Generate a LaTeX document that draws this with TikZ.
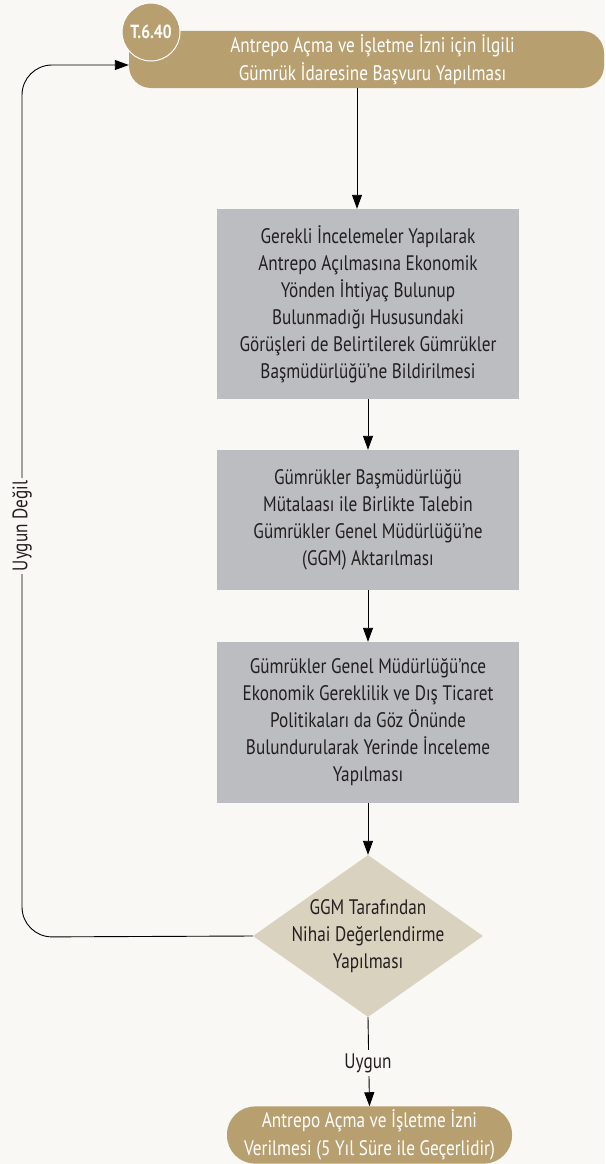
\documentclass[tikz,border=0pt]{standalone}
\usepackage{fontspec}
\setmainfont{PT Sans}[FakeStretch=0.82]
\usetikzlibrary{arrows.meta,shapes.geometric}
\definecolor{bgpage}{RGB}{249,248,245}
\definecolor{gold}{RGB}{184,159,112}
\definecolor{boxgray}{RGB}{188,189,192}
\definecolor{sand}{RGB}{217,210,190}
\definecolor{ink}{RGB}{35,31,32}
\tikzset{
  stepbox/.style={fill=boxgray, text=ink, minimum width=302pt, align=center,
    font=\fontsize{21}{27}\selectfont},
  term/.style={fill=gold, text=white, align=center, font=\fontsize{21}{28}\selectfont},
  lbl/.style={fill=bgpage, text=ink, inner sep=3pt, font=\fontsize{21}{24}\selectfont},
}
\begin{document}
\begin{tikzpicture}[x=1pt,y=-1pt,>={Triangle[length=14pt,width=10pt]}]
\useasboundingbox[fill=bgpage] (0,0) rectangle (605,1164);

\node[term, rounded corners=22pt, minimum width=475pt, minimum height=57pt] (start) at (366.5,59.5)
  {\hspace*{12pt}Antrepo Açma ve İşletme İzni için İlgili\\\hspace*{12pt}Gümrük İdaresine Başvuru Yapılması};
\node[circle, fill=gold, draw=white, line width=1pt, minimum size=58pt, inner sep=0pt,
  text=white, font=\fontsize{19}{19}\selectfont\bfseries] (tag) at (151,32) {T.6.40};

\node[stepbox, minimum height=190pt] (b1) at (368,304)
  {Gerekli İncelemeler Yapılarak\\Antrepo Açılmasına Ekonomik\\Yönden İhtiyaç Bulunup\\Bulunmadığı Hususundaki\\Görüşleri de Belirtilerek Gümrükler\\Başmüdürlüğü’ne Bildirilmesi};
\node[stepbox, minimum height=140pt] (b2) at (368,520)
  {Gümrükler Başmüdürlüğü\\Mütalaası ile Birlikte Talebin\\Gümrükler Genel Müdürlüğü’ne\\(GGM) Aktarılması};
\node[stepbox, minimum height=161pt] (b3) at (368,722.5)
  {Gümrükler Genel Müdürlüğü’nce\\Ekonomik Gereklilik ve Dış Ticaret\\Politikaları da Göz Önünde\\Bulundurularak Yerinde İnceleme\\Yapılması};

\node[diamond, fill=sand, minimum width=230pt, minimum height=162pt, inner sep=0pt] (dec) at (368,936) {};
\node[text=ink, align=center, font=\fontsize{21}{27}\selectfont] (dectxt) at (dec) {GGM Tarafından\\Nihai Değerlendirme\\Yapılması};

\node[term, rounded corners=28pt, minimum width=285pt, minimum height=56pt] (done) at (369.5,1135)
  {Antrepo Açma ve İşletme İzni\\Verilmesi (5 Yıl Süre ile Geçerlidir)};

\coordinate (loopbot) at (22,937);
\coordinate (looptop) at (22,65);

\path[draw,line width=0.9pt,->] ([xshift=-9.5pt]start.south) -- ([xshift=-11pt]b1.north);
\path[draw,line width=0.9pt,->] (b1) -- (b2);
\path[draw,line width=0.9pt,->] (b2) -- (b3);
\path[draw,line width=0.9pt,->] (b3) -- (dec.north);
\path[draw,line width=0.9pt,->] (dec.south) -- (done.north);
\path[draw,line width=0.9pt,->,rounded corners=30pt] (dec.west) -- (loopbot) -- (looptop) -- (start.west |- looptop);

\node[lbl] (ok) at (368,1063) {Uygun};
\node[lbl, rotate=90] (notok) at (22,526) {Uygun Değil};
\end{tikzpicture}
\end{document}
